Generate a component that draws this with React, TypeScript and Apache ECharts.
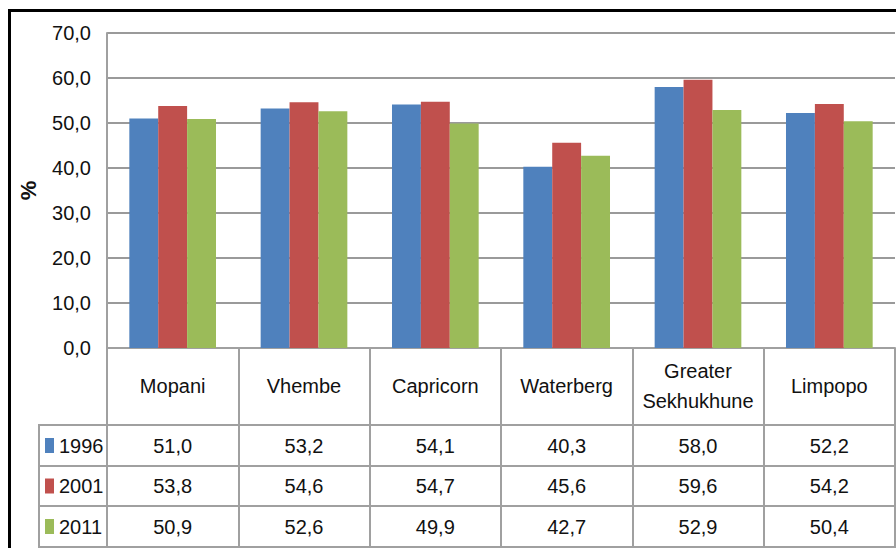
import React, { useEffect, useRef } from "react";
import * as echarts from "echarts";

const categories = ["Mopani", "Vhembe", "Capricorn", "Waterberg", "Greater\nSekhukhune", "Limpopo"];
const years = ["1996", "2001", "2011"];
const values1996 = [51.0, 53.2, 54.1, 40.3, 58.0, 52.2];
const values2001 = [53.8, 54.6, 54.7, 45.6, 59.6, 54.2];
const values2011 = [50.9, 52.6, 49.9, 42.7, 52.9, 50.4];
const yMin = 0;
const yMax = 70;
const yInterval = 10;
const colors = ["#4F81BD", "#C0504D", "#9BBB59"];

const fmt = (v: number) => v.toFixed(1).replace(".", ",");

export default function App() {
  const ref = useRef<HTMLDivElement>(null);
  useEffect(() => {
    if (!ref.current) return;
    const chart = echarts.init(ref.current, undefined, { renderer: "svg" });
    const font = "'Liberation Sans', Arial, sans-serif";
    const fs = 20;
    const gray = "#a0a0a0";
    const seriesValues = [values1996, values2001, values2011];
    const rowCenters = [445.5, 486, 526.5];
    const axisY = 348;

    const valueAxes = seriesValues.map((vals, i) => ({
      type: "category" as const,
      gridIndex: 0,
      position: "bottom" as const,
      data: vals.map(fmt),
      axisLine: { show: false },
      axisTick: { show: false },
      splitLine: { show: false },
      axisLabel: {
        interval: 0,
        margin: rowCenters[i] - axisY,
        verticalAlign: "middle" as const,
        fontSize: fs,
        fontFamily: font,
        color: "#111",
      },
    }));

    const graphics: any[] = [
      { type: "line", shape: { x1: 8, y1: 10.5, x2: 896, y2: 10.5 }, style: { stroke: "#000", lineWidth: 3 } },
      { type: "line", shape: { x1: 9.5, y1: 9, x2: 9.5, y2: 548 }, style: { stroke: "#000", lineWidth: 3 } },
      { type: "line", shape: { x1: 39, y1: 425, x2: 39, y2: 547 }, style: { stroke: gray, lineWidth: 2 } },
    ];
    [425, 466, 506, 547].forEach((y) =>
      graphics.push({ type: "line", shape: { x1: 38, y1: y, x2: 896, y2: y }, style: { stroke: gray, lineWidth: 2 } })
    );
    years.forEach((yr, i) => {
      graphics.push({
        type: "rect",
        shape: { x: 45, y: rowCenters[i] - 7.5, width: 9, height: 15 },
        style: { fill: colors[i] },
      });
      graphics.push({
        type: "text",
        x: 59,
        y: rowCenters[i],
        style: { text: yr, fontSize: fs, fontFamily: font, fill: "#111", verticalAlign: "middle", align: "left" },
      });
    });

    chart.setOption({
      animation: false,
      backgroundColor: "#fff",
      grid: { left: 107, right: 1, top: 33, bottom: 548 - axisY, containLabel: false },
      xAxis: [
        {
          type: "category",
          gridIndex: 0,
          position: "bottom",
          data: categories,
          axisLine: { show: true, lineStyle: { color: gray, width: 2 } },
          axisTick: { show: true, length: 199, inside: false, lineStyle: { color: gray, width: 2 } },
          axisLabel: {
            interval: 0,
            margin: 38,
            verticalAlign: "middle",
            fontSize: fs,
            lineHeight: 30,
            fontFamily: font,
            color: "#111",
          },
        },
        ...valueAxes,
      ],
      yAxis: {
        type: "value",
        min: yMin,
        max: yMax,
        interval: yInterval,
        name: "%",
        nameLocation: "middle",
        nameRotate: 90,
        nameGap: 68,
        nameTextStyle: { fontSize: 22, fontWeight: "bold", fontFamily: font, color: "#111" },
        axisLine: { show: true, lineStyle: { color: gray, width: 2 } },
        axisTick: { show: false },
        splitLine: { show: true, lineStyle: { color: "#9a9a9a", width: 2 } },
        axisLabel: { margin: 16, fontSize: fs, fontFamily: font, color: "#111", formatter: (v: number) => fmt(v) },
      },
      series: seriesValues.map((vals, i) => ({
        type: "bar",
        name: years[i],
        xAxisIndex: 0,
        yAxisIndex: 0,
        data: vals,
        barGap: "0%",
        barCategoryGap: "34%",
        itemStyle: { color: colors[i] },
      })),
      graphic: graphics,
    });
    return () => chart.dispose();
  }, []);
  return <div ref={ref} style={{ position: "fixed", left: 0, top: 0, width: 896, height: 548 }} />;
}
